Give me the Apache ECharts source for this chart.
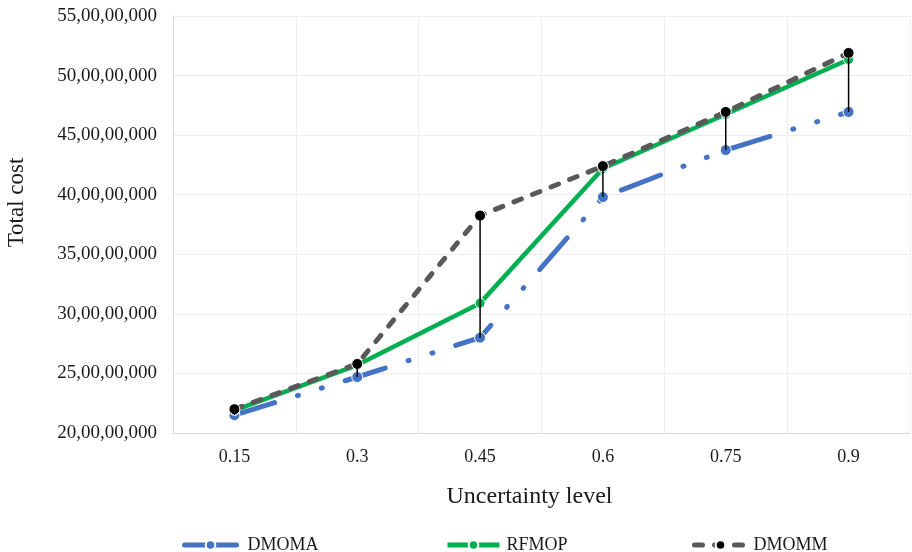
<!DOCTYPE html>
<html>
<head>
<meta charset="utf-8">
<script src="https://cdn.jsdelivr.net/npm/echarts@6/dist/echarts.min.js"></script>
<style>
  html, body { margin: 0; padding: 0; background: #fff; }
  #chart { width: 912px; height: 552px; }
</style>
</head>
<body>
<div id="chart"></div>
<script>
// uncertainty levels on the x axis
const levels = ['0.15', '0.3', '0.45', '0.6', '0.75', '0.9']

// total cost per model
const dmoma = [215000000, 247000000, 280000000, 398000000, 437500000, 469500000]
const rfmop = [219000000, 257000000, 309000000, 422000000, 467500000, 513500000]
const dmomm = [220000000, 258000000, 382500000, 424000000, 469500000, 519000000]

const font = "'Liberation Serif', 'Times New Roman', serif"
const textColor = '#1a1a1a'

// 550000000 -> 55,00,00,000
const indian = v => {
  const s = String(Math.round(v))
  const last3 = s.slice(-3)
  let rest = s.slice(0, -3)
  rest = rest.replace(/\B(?=(\d{2})+(?!\d))/g, ',')
  return rest ? rest + ',' + last3 : last3
}

const chart = echarts.init(document.getElementById('chart'))

const legendBase = {
  top: 536,
  padding: 0,
  itemWidth: 52,
  itemHeight: 12,
  textStyle: { fontFamily: font, fontSize: 18, color: textColor }
}
const legendText = pad => Object.assign({}, legendBase.textStyle, { padding: [0, 0, 0, pad] })

const option = {
  animation: false,
  backgroundColor: '#fff',
  grid: { left: 173, right: 2, top: 16, bottom: 119, outerBoundsMode: 'none', containLabel: false },
  legend: [
    Object.assign({}, legendBase, {
      left: 182, data: ['DMOMA'],
      lineStyle: { type: 'solid', width: 5, cap: 'round' },
      textStyle: legendText(6)
    }),
    Object.assign({}, legendBase, {
      left: 445, data: ['RFMOP'],
      lineStyle: { width: 5 },
      textStyle: legendText(2)
    }),
    Object.assign({}, legendBase, {
      left: 692, data: ['DMOMM'],
      lineStyle: { width: 5, cap: 'round' },
      textStyle: legendText(2)
    })
  ],
  xAxis: {
    type: 'category',
    data: levels,
    boundaryGap: true,
    name: 'Uncertainty level',
    nameLocation: 'middle',
    nameGap: 52,
    nameTextStyle: { fontFamily: font, fontSize: 24, color: textColor, padding: [0, 24, 0, 0] },
    axisLine: { lineStyle: { color: '#d9d9d9', width: 1 } },
    axisTick: { show: false },
    axisLabel: { fontFamily: font, fontSize: 18, color: textColor, margin: 15 },
    splitLine: { show: true, lineStyle: { color: '#eeeeee', width: 1 } }
  },
  yAxis: {
    type: 'value',
    min: 200000000,
    max: 550000000,
    interval: 50000000,
    name: 'Total cost',
    nameLocation: 'middle',
    nameGap: 145,
    nameTextStyle: { fontFamily: font, fontSize: 23, color: textColor, padding: [0, 0, 0, 44] },
    axisLine: { show: true, lineStyle: { color: '#d9d9d9', width: 1 } },
    axisTick: { show: false },
    axisLabel: { fontFamily: font, fontSize: 19, color: textColor, margin: 16, formatter: indian },
    splitLine: { lineStyle: { color: '#eeeeee', width: 1 } }
  },
  series: [
    {
      name: 'DMOMA',
      type: 'line',
      data: dmoma,
      symbol: 'circle',
      symbolSize: 11,
      z: 2,
      itemStyle: { color: '#4472c4', borderColor: '#fff', borderWidth: 1 },
      lineStyle: { color: '#4472c4', width: 5, cap: 'round', type: [42, 24, 1, 24, 1, 24] }
    },
    {
      name: 'RFMOP',
      type: 'line',
      data: rfmop,
      symbol: 'circle',
      symbolSize: 10,
      z: 3,
      itemStyle: { color: '#00b050', borderColor: '#fff', borderWidth: 1 },
      lineStyle: { color: '#00b050', width: 4.5 }
    },
    {
      name: 'DMOMM',
      type: 'line',
      data: dmomm,
      symbol: 'circle',
      symbolSize: 11,
      z: 4,
      itemStyle: { color: '#000', borderColor: '#fff', borderWidth: 1 },
      lineStyle: { color: '#595959', width: 5, cap: 'round', type: [8, 12] }
    },
    {
      // high-low lines between DMOMM and DMOMA
      name: 'hilo',
      type: 'custom',
      z: 5,
      silent: true,
      data: levels.map((l, i) => [i, dmomm[i], dmoma[i]]),
      renderItem: (params, api) => {
        const top = api.coord([api.value(0), api.value(1)])
        const bot = api.coord([api.value(0), api.value(2)])
        return {
          type: 'line',
          shape: { x1: top[0], y1: top[1], x2: bot[0], y2: bot[1] },
          style: { stroke: '#000', lineWidth: 1.5 }
        }
      }
    }
  ]
}

chart.setOption(option)
</script>
</body>
</html>
